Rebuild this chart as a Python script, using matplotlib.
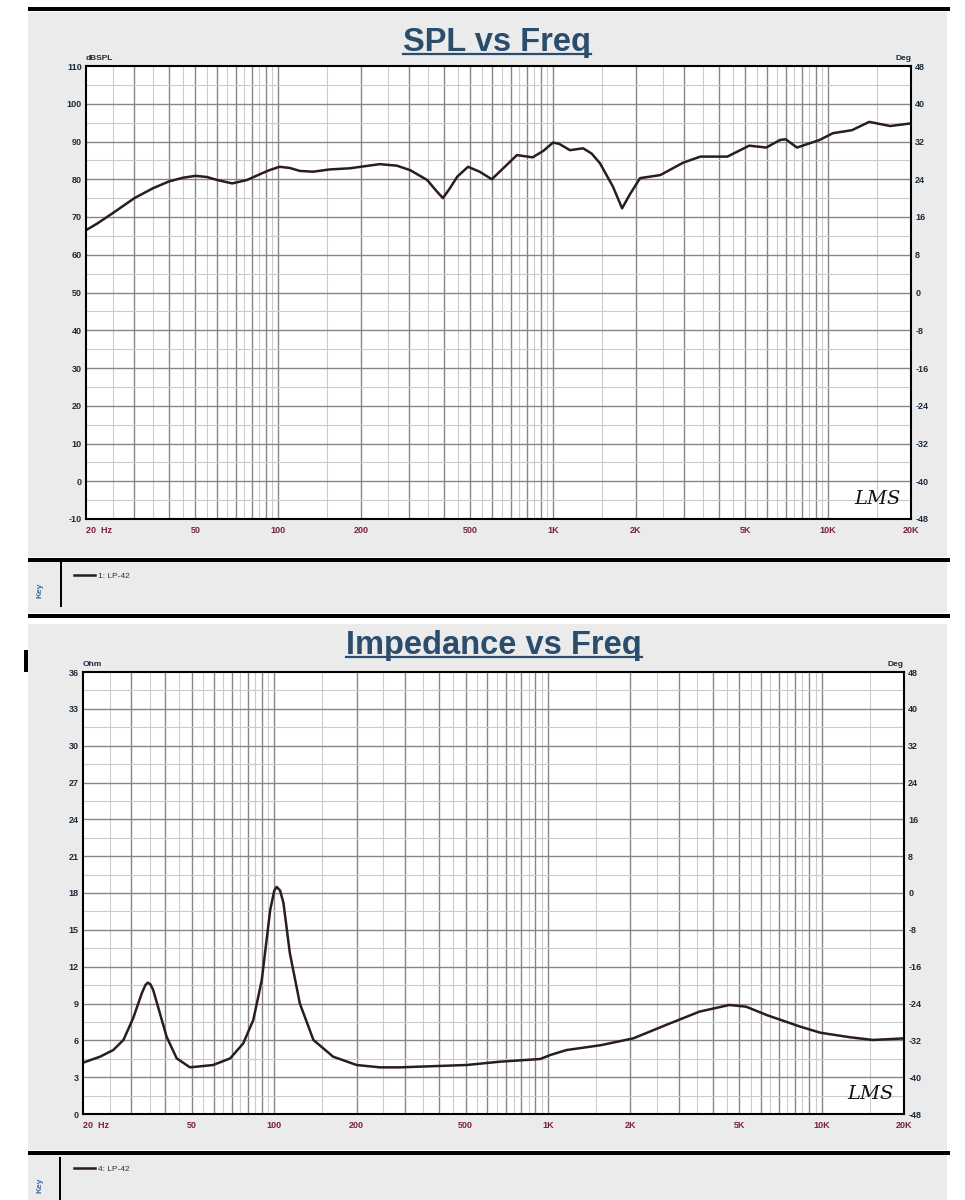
import matplotlib
matplotlib.use("Agg")
import matplotlib.pyplot as plt
from matplotlib.lines import Line2D
from matplotlib.patches import Rectangle
from matplotlib.transforms import ScaledTranslation

W, H = 965, 1200

# SPL response (Hz, dB)
spl_freq = [20, 22, 25, 30, 35, 40, 45, 50, 55, 60, 68, 77, 85, 92, 101, 110, 120, 134,
            154, 182, 234, 270, 302, 348, 375, 397, 420, 448, 490, 540, 598, 660, 738,
            842, 920, 998, 1050, 1150, 1284, 1380, 1480, 1650, 1780, 1900, 2070, 2450,
            2970, 3430, 4300, 5160, 5950, 6680, 7000, 7700, 9300, 10400, 12200, 14100,
            16800, 20000]
spl_db = [66.5, 68.3, 71.0, 75.0, 77.6, 79.4, 80.4, 80.9, 80.6, 79.8, 78.9, 79.8, 81.2,
          82.3, 83.3, 83.0, 82.2, 82.0, 82.6, 82.9, 84.0, 83.6, 82.4, 79.8, 77.0, 75.0,
          77.5, 80.7, 83.3, 82.0, 80.0, 83.0, 86.4, 85.8, 87.5, 89.7, 89.4, 87.7, 88.2,
          86.8, 84.2, 78.0, 72.3, 76.0, 80.3, 81.1, 84.4, 86.0, 86.0, 88.9, 88.4, 90.4,
          90.6, 88.4, 90.4, 92.2, 93.0, 95.2, 94.1, 94.8]

# Impedance (Hz, ohm)
imp_freq = [20, 23.1, 25.8, 28.1, 30.5, 32.8, 33.8, 34.5, 35.3, 36.1, 38.2, 40.4, 44,
            49.2, 59.8, 69, 77, 83.8, 90, 96.6, 100, 102, 105, 108, 114, 124, 139, 164,
            200, 243, 288, 504, 668, 938, 1018, 1170, 1556, 2050, 2700, 3580, 4600,
            5300, 6300, 8340, 9900, 12700, 15400, 20000]
imp_ohm = [4.18, 4.67, 5.21, 6.03, 7.8, 9.83, 10.5, 10.7, 10.55, 10.1, 8.2, 6.3, 4.53,
           3.8, 3.99, 4.53, 5.75, 7.65, 10.9, 16.6, 18.2, 18.5, 18.2, 17.2, 13.1, 9.0,
           6.03, 4.67, 3.99, 3.8, 3.8, 3.99, 4.26, 4.48, 4.8, 5.21, 5.6, 6.16, 7.25,
           8.34, 8.88, 8.74, 8.06, 7.12, 6.62, 6.25, 6.03, 6.16]

x_ticks = [20, 50, 100, 200, 500, 1000, 2000, 5000, 10000, 20000]
x_labels = ["20  Hz", "50", "100", "200", "500", "1K", "2K", "5K", "10K", "20K"]
spl_ticks = list(range(-10, 111, 10))
imp_ticks = list(range(0, 37, 3))
deg_ticks = list(range(-48, 49, 8))

plt.rcParams['font.family'] = ['Liberation Sans', 'DejaVu Sans']

fig = plt.figure(figsize=(W / 100, H / 100), dpi=100)
fig.patch.set_facecolor('white')

PANEL = '#ebebeb'
CURVE = '#2b1b24'


def frect(l, t, r, b):
    return [l / W, 1 - b / H, (r - l) / W, (b - t) / H]


def box(l, t, r, b, color):
    fig.add_artist(Rectangle((l / W, 1 - b / H), (r - l) / W, (b - t) / H,
                             transform=fig.transFigure, facecolor=color,
                             edgecolor='none', zorder=0))


def hbar(y, l, r, px=4):
    fig.add_artist(Line2D([l / W, r / W], [1 - y / H, 1 - y / H], color='black',
                          lw=px * 0.72, solid_capstyle='butt'))


def vbar(x, t, b, px=2):
    fig.add_artist(Line2D([x / W, x / W], [1 - t / H, 1 - b / H], color='black',
                          lw=px * 0.72, solid_capstyle='butt'))


def underline_title(txt, x, y, size):
    t = fig.text(x / W, 1 - y / H, txt, ha='center', va='baseline', fontsize=size,
                 fontweight='bold', color='#2a4d6e')
    fig.canvas.draw()
    bb = t.get_window_extent()
    uy = 1 - (y + 3) / H
    fig.add_artist(Line2D([bb.x0 / W, bb.x1 / W], [uy, uy], color='#2a4d6e', lw=1.6))


def panel(rect, freq, vals, ylim, yticks, ystep, unit, legend_text, legend_y):
    ax = fig.add_axes(frect(*rect))
    ax.set_facecolor('white')
    ax.set_xscale('log')
    ax.set_xlim(20, 20000)
    ax.set_ylim(*ylim)

    # frequency grid: dark at whole multiples, light at half steps
    for dec in [10, 100, 1000, 10000]:
        for m in range(1, 10):
            f = m * dec
            if 20 < f < 20000:
                ax.axvline(f, color='#868686', lw=1.0, zorder=1)
            fh = (m + 0.5) * dec
            if 20 < fh < 20000:
                ax.axvline(fh, color='#cacaca', lw=0.8, zorder=1)
    for v in yticks[1:-1]:
        ax.axhline(v, color='#868686', lw=1.0, zorder=1)
    for v in yticks[:-1]:
        ax.axhline(v + ystep / 2, color='#cacaca', lw=0.8, zorder=1)

    line, = ax.plot(freq, vals, color=CURVE, lw=1.8, zorder=3,
                    solid_joinstyle='round')

    ax.set_xticks(x_ticks)
    ax.set_xticks([], minor=True)
    labs = ax.set_xticklabels(x_labels)
    for lab in labs:
        lab.set_color('#7b1f45')
        lab.set_fontweight('bold')
        lab.set_fontsize(6.5)
    labs[0].set_ha('left')
    labs[0].set_transform(labs[0].get_transform() +
                          ScaledTranslation(-4 / 72, 0, fig.dpi_scale_trans))
    ax.set_yticks(yticks)
    ax.set_yticklabels([str(v) for v in yticks], fontsize=6.5, fontweight='bold',
                       color='#1c2b3a')
    ax.tick_params(axis='x', length=0, pad=5)
    ax.tick_params(axis='y', length=0, pad=3)
    for s in ax.spines.values():
        s.set_linewidth(1.5)
        s.set_color('black')
        s.set_zorder(4)

    ax2 = ax.twinx()
    ax2.set_ylim(-48, 48)
    ax2.set_yticks(deg_ticks)
    ax2.set_yticklabels([str(v) for v in deg_ticks], fontsize=6.5, fontweight='bold',
                        color='#1c2b3a')
    ax2.tick_params(axis='y', length=0, pad=3)
    for s in ax2.spines.values():
        s.set_visible(False)

    ax.text(0.0, 1.008, unit, transform=ax.transAxes, ha='left', va='bottom',
            fontsize=6, fontweight='bold', color='#1c2b3a')
    ax.text(1.0, 1.008, 'Deg', transform=ax.transAxes, ha='right', va='bottom',
            fontsize=6, fontweight='bold', color='#1c2b3a')
    ax.text(0.988, 0.025, 'LMS', transform=ax.transAxes, ha='right', va='bottom',
            fontsize=14, style='italic', family='DejaVu Serif', color='#111111',
            zorder=5)

    fig.legend(handles=[line], labels=[legend_text], loc='center left',
               bbox_to_anchor=(66 / W, 1 - legend_y / H), frameon=False,
               fontsize=6, handlelength=2.6, handletextpad=0.4,
               labelcolor='#333333')
    return ax


# top panel frame
hbar(9, 28, 950)
box(28, 12, 947, 557, PANEL)
hbar(559.5, 28, 950)
box(28, 562, 947, 613, PANEL)
hbar(615.5, 28, 950)
vbar(61, 562, 607)
fig.text(40 / W, 1 - 590 / H, 'Key', rotation=90, ha='center', va='center',
         fontsize=6, fontweight='bold', color='#3a6a9a')

# bottom panel frame
box(28, 624, 947, 1150, PANEL)
hbar(1152.5, 28, 950)
box(28, 1155, 947, 1200, PANEL)
vbar(60, 1157, 1200)
fig.text(40 / W, 1 - 1185 / H, 'Key', rotation=90, ha='center', va='center',
         fontsize=6, fontweight='bold', color='#3a6a9a')
vbar(26, 650, 672, px=4)

panel((86, 66, 911, 519), spl_freq, spl_db, (-10, 110), spl_ticks, 10, 'dBSPL',
      '1: LP-42', 576)
panel((83, 672, 904, 1114), imp_freq, imp_ohm, (0, 36), imp_ticks, 3, 'Ohm',
      '4: LP-42', 1169)

underline_title('SPL vs Freq', 497, 51, 23.5)
underline_title('Impedance vs Freq', 494, 654, 23.5)

fig.savefig('out.png', dpi=100, facecolor='white')
